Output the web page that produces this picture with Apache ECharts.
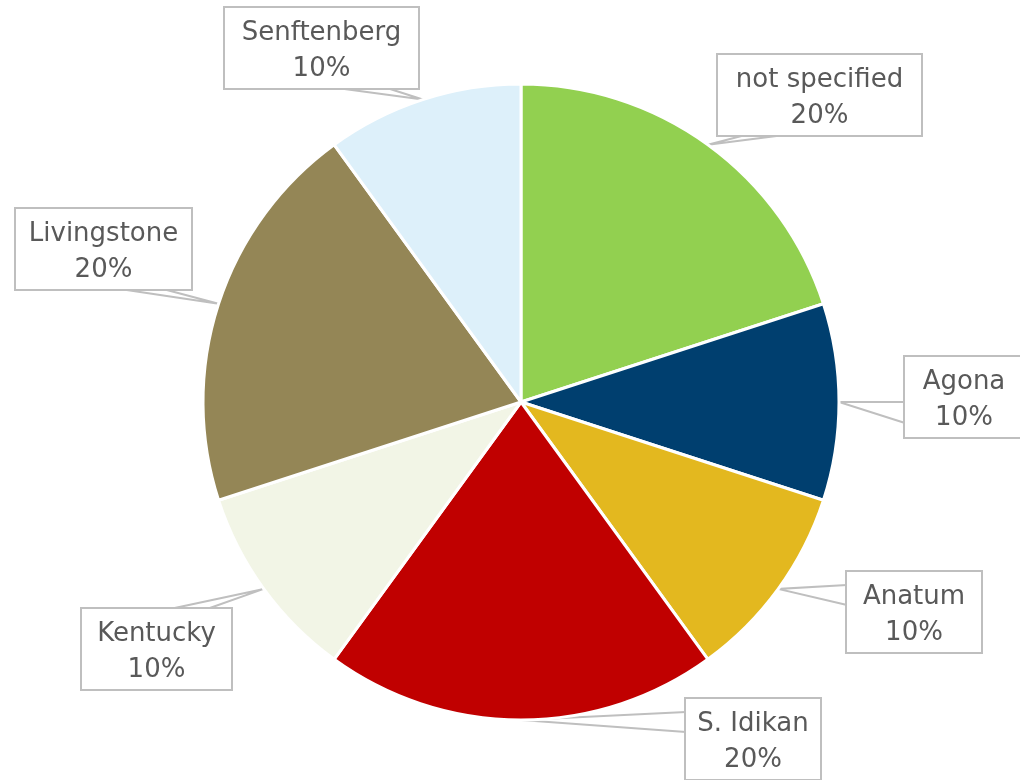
<!DOCTYPE html>
<html>
<head>
<meta charset="utf-8">
<script src="https://cdn.jsdelivr.net/npm/echarts@6/dist/echarts.min.js"></script>
<style>
  html, body { margin: 0; padding: 0; background: #ffffff; }
  #chart { width: 1020px; height: 780px; }
</style>
</head>
<body>
<div id="chart"></div>
<script>
// Serotype shares, clockwise from 12 o'clock
const serotypes = ['not specified', 'Agona', 'Anatum', 'S. Idikan', 'Kentucky', 'Livingstone', 'Senftenberg'];
const shares = [20, 10, 10, 20, 10, 20, 10];
const sliceColors = ['#92D050', '#003F6F', '#E3B81F', '#C00000', '#F2F5E6', '#948656', '#DDF0FA'];

// Callout boxes: [left, top, width, height], plus the box side the pointer leaves from
// and the two offsets along that side where the pointer meets the box.
const calloutBoxes = [
  { box: [718, 55, 203, 78], side: 'bottom', from: 35, to: 82 },
  { box: [905, 357, 118, 80], side: 'left', from: 45, to: 66 },
  { box: [847, 572, 134, 80], side: 'left', from: 13, to: 33 },
  { box: [686, 699, 134, 81], side: 'left', from: 13, to: 33 },
  { box: [82, 609, 149, 79], side: 'top', from: 88, to: 125 },
  { box: [16, 209, 175, 80], side: 'bottom', from: 104, to: 147 },
  { box: [225, 8, 193, 80], side: 'bottom', from: 112, to: 162 }
];

const chart = echarts.init(document.getElementById('chart'), null, { renderer: 'canvas' });

chart.setOption({
  backgroundColor: '#ffffff',
  animation: false,
  series: [{
    type: 'pie',
    center: [521, 402],
    radius: 318,
    startAngle: 90,
    clockwise: true,
    avoidLabelOverlap: false,
    itemStyle: { borderColor: '#ffffff', borderWidth: 3 },
    label: {
      show: true,
      position: 'outside',
      formatter: '{b}\n{d}%',
      fontFamily: '"DejaVu Sans", sans-serif',
      fontSize: 26,
      lineHeight: 36,
      color: '#595959',
      align: 'center',
      backgroundColor: '#ffffff',
      borderColor: '#BFBFBF',
      borderWidth: 2,
      padding: [7, 0, 1, 0]
    },
    labelLine: {
      show: true,
      length: 10,
      length2: 10,
      smooth: false,
      lineStyle: { color: '#BFBFBF', width: 2 }
    },
    labelLayout: function (params) {
      const c = calloutBoxes[params.dataIndex];
      const [left, top, w, h] = c.box;
      const tip = params.labelLinePoints ? params.labelLinePoints[0] : [left, top];
      let a, b;
      if (c.side === 'bottom') {
        a = [left + c.from, top + h]; b = [left + c.to, top + h];
      } else if (c.side === 'top') {
        a = [left + c.from, top]; b = [left + c.to, top];
      } else if (c.side === 'left') {
        a = [left, top + c.from]; b = [left, top + c.to];
      } else {
        a = [left + w, top + c.from]; b = [left + w, top + c.to];
      }
      return {
        x: left + w / 2,
        y: top,
        align: 'center',
        verticalAlign: 'top',
        labelLinePoints: [a, tip, b]
      };
    },
    data: serotypes.map((name, i) => ({
      name: name,
      value: shares[i],
      itemStyle: { color: sliceColors[i] },
      label: { width: calloutBoxes[i].box[2] }
    }))
  }]
});
</script>
</body>
</html>
